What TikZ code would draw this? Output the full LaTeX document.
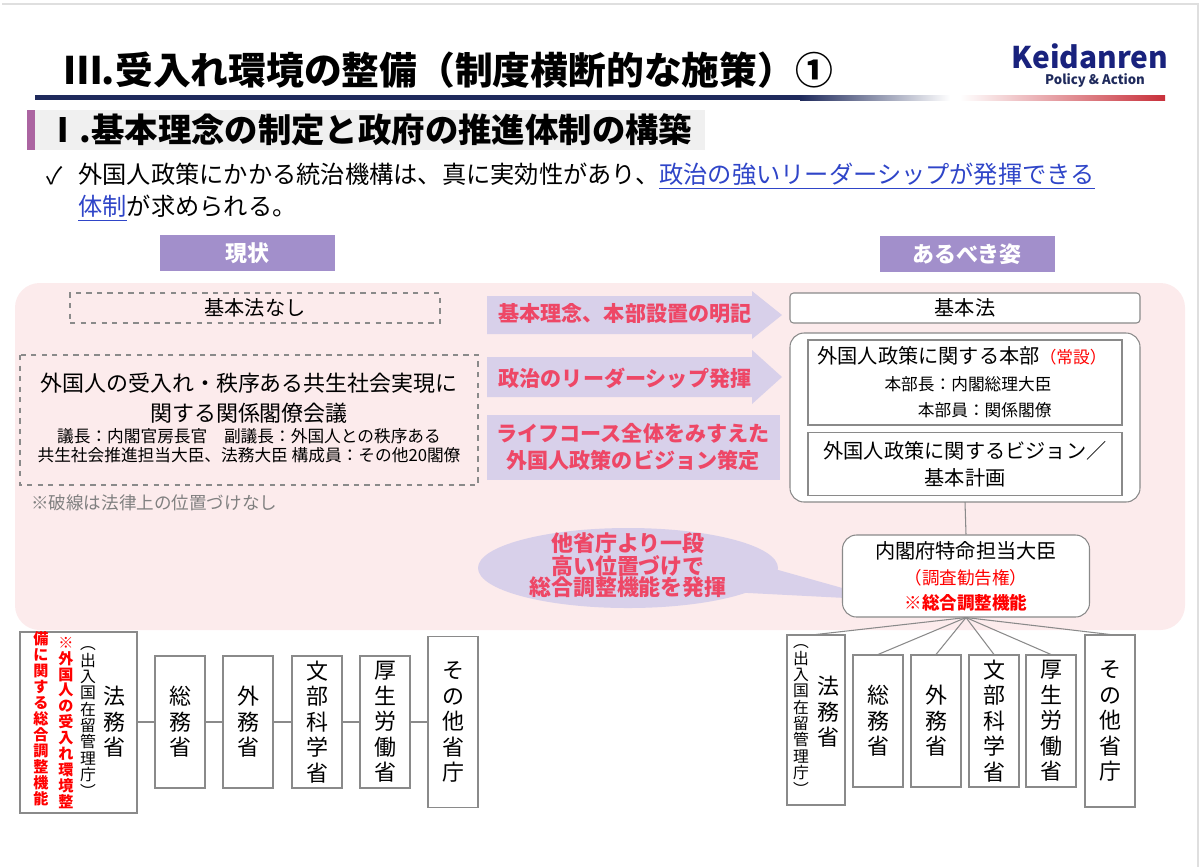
\documentclass[tikz,border=0pt]{standalone}
\usepackage{fontspec}
\setmainfont{Noto Sans CJK JP}
\usetikzlibrary{positioning}
\definecolor{navy}{HTML}{1F2A5C}
\definecolor{kred}{HTML}{C8303A}
\definecolor{tabpurple}{HTML}{A28FCB}
\definecolor{lav}{HTML}{D8D0EA}
\definecolor{pinkbg}{HTML}{FCEBEC}
\definecolor{rosered}{HTML}{EE4766}
\definecolor{linkblue}{HTML}{2F45C8}
\definecolor{frame}{HTML}{8A8A8A}
\ExplSyntaxOn
\NewDocumentCommand\tate{m}{\parbox{1.1em}{\parskip=0pt\centering\tl_map_inline:nn{#1}{\mbox{##1}\par}}}
\ExplSyntaxOff
\tikzset{
  box/.style={draw=frame, fill=white, line width=0.6pt, inner sep=0pt},
  dbox/.style={draw=frame, dashed, line width=0.6pt, inner sep=0pt},
  tab/.style={fill=tabpurple, text=white, font=\fontsize{12.5}{14}\selectfont\bfseries, inner sep=0pt},
  arrtxt/.style={text=rosered, font=\fontsize{12}{14}\selectfont\bfseries, align=center},
  vbox/.style={box, minimum width=50*0.02cm, minimum height=132*0.02cm, font=\fontsize{12.5}{14.5}\selectfont},
  lnk/.style={frame, line width=0.6pt},
}
\begin{document}
\begin{tikzpicture}[x=0.02cm, y=-0.02cm]
\useasboundingbox (0,0) rectangle (1200,867);
\draw[gray!25, line width=1.5pt] (2,4) -- (1198,4) -- (1198,867);
% title
\node[anchor=west, font=\fontsize{21.5}{24}\selectfont\bfseries] (title) at (58,70) {Ⅲ.受入れ環境の整備（制度横断的な施策）①};
\node[font=\fontsize{17}{18}\selectfont\bfseries, text=navy!80!blue] (logo) at (1090,56) {Keidanren};
\node[font=\fontsize{7.5}{8}\selectfont\bfseries, text=navy] (logo2) at (1095,80) {Policy \& Action};
\fill[navy] (35,95) rectangle (800,100);
\shade[left color=navy, right color=white] (800,95) rectangle (950,100);
\shade[left color=white, right color=kred] (960,95) rectangle (1165,100);
% section header
\fill[gray!12] (35,110) rectangle (705,150);
\fill[tabpurple!70!purple] (27,110) rectangle (35,150);
\node[anchor=west, font=\fontsize{19}{21}\selectfont\bfseries] (sect) at (40,130) {Ⅰ.基本理念の制定と政府の推進体制の構築};
\node[anchor=west, font=\fontsize{13.5}{15}\selectfont] (chk) at (40,176) {✓};
\node[anchor=west, font=\fontsize{13.8}{15}\selectfont, inner sep=0pt] (lead1) at (78,176)
  {外国人政策にかかる統治機構は、真に実効性があり、\textcolor{linkblue}{\underline{政治の強いリーダーシップが発揮できる}}};
\node[anchor=west, font=\fontsize{13.8}{15}\selectfont, inner sep=0pt] (lead2) at (78,208)
  {\textcolor{linkblue}{\underline{体制}}が求められる。};
% tabs
\node[tab, minimum width=175*0.02cm, minimum height=36*0.02cm] (now) at (247,253) {現状};
\node[tab, minimum width=175*0.02cm, minimum height=36*0.02cm] (ideal) at (967,254) {あるべき姿};
% background
\fill[pinkbg, rounded corners=14pt] (15,283) rectangle (1185,630);
% left: current
\node[dbox, minimum width=370*0.02cm, minimum height=30*0.02cm, font=\fontsize{11.5}{13}\selectfont] (nolaw) at (255,308) {基本法なし};
\draw[dbox] (20,355) rectangle (478,485);
\node[align=center, font=\fontsize{12.5}{17}\selectfont] (council) at (249,398) {外国人の受入れ・秩序ある共生社会実現に\\関する関係閣僚会議};
\node[align=center, font=\fontsize{9.5}{11}\selectfont] (members) at (249,446) {議長：内閣官房長官\quad 副議長：外国人との秩序ある\\共生社会推進担当大臣、法務大臣 構成員：その他20閣僚};
\node[anchor=west, text=gray, font=\fontsize{10}{12}\selectfont] (note) at (25,503) {※破線は法律上の位置づけなし};
% arrows
\fill[lav] (487,296) -- (752,296) -- (752,291) -- (782,315) -- (752,339) -- (752,334) -- (487,334) -- cycle;
\node[arrtxt] (a1) at (625,314) {基本理念、本部設置の明記};
\fill[lav] (487,357) -- (752,357) -- (752,350) -- (782,377) -- (752,404) -- (752,397) -- (487,397) -- cycle;
\node[arrtxt] (a2) at (625,378) {政治のリーダーシップ発揮};
\fill[lav] (487,415) rectangle (780,480);
\node[arrtxt, font=\fontsize{12}{15}\selectfont\bfseries] (a3) at (633,447) {ライフコース全体をみすえた\\外国人政策のビジョン策定};
% callout
\fill[lav] (700,548) -- (885,600) -- (690,590) -- cycle;
\fill[lav] (628,568) ellipse [x radius=150, y radius=40];
\node[arrtxt, font=\fontsize{12.5}{12}\selectfont\bfseries] (call) at (628,565) {他省庁より一段\\高い位置づけで\\総合調整機能を発揮};
% right: ideal
\node[box, rounded corners=2pt, minimum width=350*0.02cm, minimum height=30*0.02cm, font=\fontsize{11.5}{13}\selectfont] (law) at (965,308) {基本法};
\draw[frame, line width=0.6pt, fill=white, rounded corners=8pt] (790,333) rectangle (1140,502);
\draw[box] (808,340) rectangle (1122,425);
\node[font=\fontsize{11.5}{13}\selectfont] (hq) at (962,356) {外国人政策に関する本部\textcolor{red}{\fontsize{9.5}{11}\selectfont（常設）}};
\node[align=right, font=\fontsize{9.5}{14.5}\selectfont] (hqm) at (968,397) {本部長：内閣総理大臣\\本部員：関係閣僚};
\node[box, minimum width=314*0.02cm, minimum height=63*0.02cm, align=center, font=\fontsize{11.5}{15.5}\selectfont] (vision) at (965,464) {外国人政策に関するビジョン／\\基本計画};
\node[box, rounded corners=8pt, minimum width=247*0.02cm, minimum height=82*0.02cm] (minister) at (966,576) {};
\node[font=\fontsize{11.5}{13}\selectfont] (mt) at (966,551) {内閣府特命担当大臣};
\node[text=red, font=\fontsize{10}{12}\selectfont] (mt2) at (966,578) {（調査勧告権）};
\node[text=red, font=\fontsize{10}{12}\selectfont\bfseries] (mt3) at (966,603) {※総合調整機能};
\draw[lnk] (965,502) -- (minister.north);
% bottom left ministries
\draw[box] (20,632) rectangle (137,813);
\node[font=\fontsize{12.5}{14.5}\selectfont, inner sep=0pt] (lmoj) at (114,722) {\tate{法務省}};
\node[font=\fontsize{9}{9.3}\selectfont, inner sep=0pt] (limm) at (88,722) {\tate{︵出入国在留管理庁︶}};
\node[text=red, font=\fontsize{8.6}{9.1}\selectfont\bfseries, inner sep=0pt] (lnote1) at (66,723) {\tate{※外国人の受入れ環境整}};
\node[text=red, font=\fontsize{8.6}{9.1}\selectfont\bfseries, inner sep=0pt] (lnote2) at (41,719) {\tate{備に関する総合調整機能}};
\node[vbox] (lmic) at (180,722) {\tate{総務省}};
\node[vbox] (lmofa) at (248,722) {\tate{外務省}};
\node[vbox] (lmext) at (317,722) {\tate{文部科学省}};
\node[vbox] (lmhlw) at (385,722) {\tate{厚生労働省}};
\node[vbox, minimum height=171*0.02cm] (lother) at (453,722) {\tate{その他省庁}};
\draw[lnk] (137,722) -- (lmic.west);
\draw[lnk] (lmic.east) -- (lmofa.west);
\draw[lnk] (lmofa.east) -- (lmext.west);
\draw[lnk] (lmext.east) -- (lmhlw.west);
\draw[lnk] (lmhlw.east) -- (lother.west);
% bottom right ministries
\node[box, minimum width=58*0.02cm, minimum height=170*0.02cm] (rmoj) at (816,720) {};
\node[font=\fontsize{12.5}{14.5}\selectfont, inner sep=0pt] (rmojt) at (828,712) {\tate{法務省}};
\node[font=\fontsize{9}{9.3}\selectfont, inner sep=0pt] (rimm) at (801,720) {\tate{︵出入国在留管理庁︶}};
\node[vbox] (rmic) at (878,721) {\tate{総務省}};
\node[vbox] (rmofa) at (936,721) {\tate{外務省}};
\node[vbox] (rmext) at (994,721) {\tate{文部科学省}};
\node[vbox] (rmhlw) at (1051,721) {\tate{厚生労働省}};
\node[vbox, minimum height=172*0.02cm] (rother) at (1110,721) {\tate{その他省庁}};
\foreach \m in {rmoj,rmic,rmofa,rmext,rmhlw,rother}
  \draw[lnk] (minister.south) -- (\m.north);
\end{tikzpicture}
\end{document}
